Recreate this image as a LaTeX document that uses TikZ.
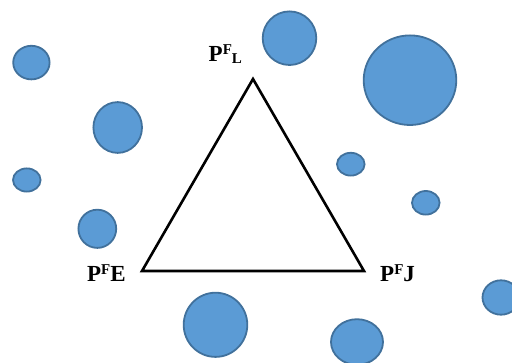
\documentclass[tikz,border=0pt]{standalone}
\usepackage{fontspec}
\setmainfont{Liberation Serif}
\definecolor{bfill}{HTML}{5B9BD5}
\definecolor{bline}{HTML}{41719C}
\newcommand{\supF}{\raisebox{0.3em}{\fontsize{15}{15}\selectfont F}}
\newcommand{\subL}{\raisebox{-0.07em}{\fontsize{15}{15}\selectfont L}}
\begin{document}
\begin{tikzpicture}[x=1pt,y=-1pt,
  bubble/.style={fill=bfill,draw=bline,line width=1.8pt},
  lbl/.style={font=\fontsize{23}{26}\selectfont\bfseries,inner sep=0pt,anchor=base west}]
\useasboundingbox (0,0) rectangle (512,363);
\begin{scope}
\clip (0,0) rectangle (512,363);
\path[bubble] (31.4,62.6) ellipse [x radius=18.2,y radius=16.8];
\path[bubble] (289.5,38.2) ellipse [x radius=26.8,y radius=26.8];
\path[bubble] (410,80.2) ellipse [x radius=46.3,y radius=44.8];
\path[bubble] (117.7,127.5) ellipse [x radius=24.3,y radius=25.4];
\path[bubble] (26.8,180) ellipse [x radius=13.8,y radius=11.6];
\path[bubble] (350.8,164.2) ellipse [x radius=13.8,y radius=11.4];
\path[bubble] (425.8,202.8) ellipse [x radius=13.8,y radius=11.8];
\path[bubble] (97.3,228.8) ellipse [x radius=18.9,y radius=19.1];
\path[bubble] (215.5,324.8) ellipse [x radius=31.8,y radius=32.1];
\path[bubble] (357,342) ellipse [x radius=26,y radius=22.8];
\path[bubble] (501,297.5) ellipse [x radius=18.5,y radius=17.2];
\end{scope}
\coordinate (L) at (253,79);
\coordinate (E) at (142,271);
\coordinate (J) at (364,271);
\draw[line width=2.6pt,line join=miter] (L) -- (J) -- (E) -- cycle;
\node[lbl] (tL) at (208.5,61.7) {P\supF\subL};
\node[lbl] (tE) at (87,281.7) {P\supF E};
\node[lbl] (tJ) at (380,281.7) {P\supF J};
\end{tikzpicture}
\end{document}
